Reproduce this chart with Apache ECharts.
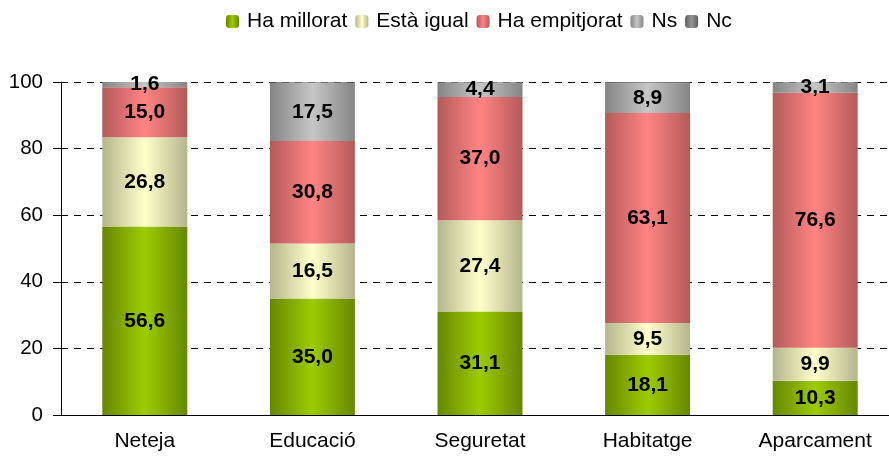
<!DOCTYPE html>
<html>
<head>
<meta charset="utf-8">
<script src="https://cdn.jsdelivr.net/npm/echarts@6/dist/echarts.min.js"></script>
<style>
  html, body { margin: 0; padding: 0; background: #fff; }
  #chart { width: 889px; height: 459px; }
</style>
</head>
<body>
<div id="chart"></div>
<script>
const categories = ['Neteja', 'Educació', 'Seguretat', 'Habitatge', 'Aparcament'];
const millorat = [56.6, 35.0, 31.1, 18.1, 10.3];
const igual = [26.8, 16.5, 27.4, 9.5, 9.9];
const empitjorat = [15.0, 30.8, 37.0, 63.1, 76.6];
const ns = [1.6, 17.5, 4.4, 8.9, 3.1];
const nc = [0, 0.2, 0.1, 0.4, 0.1];
const yTicks = [0, 20, 40, 60, 80, 100];

// edge colour, centre colour
const palette = {
  'Ha millorat': ['#678700', '#9ccc00'],
  'Està igual': ['#b5b58c', '#ffffcc'],
  'Ha empitjorat': ['#b45a5a', '#ff8484'],
  'Ns': ['#858585', '#c6c6c6'],
  'Nc': ['#5e5e5e', '#959595']
};

function grad(name) {
  const c = palette[name];
  return new echarts.graphic.LinearGradient(0, 0, 1, 0, [
    { offset: 0, color: c[0] },
    { offset: 0.5, color: c[1] },
    { offset: 1, color: c[0] }
  ]);
}

function fmt(p) {
  return p.value.toFixed(1).replace('.', ',');
}

function mk(name, data, showLabel) {
  return {
    name: name,
    type: 'bar',
    stack: 'total',
    barWidth: 85,
    data: data,
    itemStyle: { color: grad(name) },
    label: {
      show: showLabel,
      position: 'inside',
      formatter: fmt,
      color: '#000',
      fontFamily: 'Liberation Sans, Arial, sans-serif',
      fontWeight: 'bold',
      fontSize: 21
    }
  };
}

const chart = echarts.init(document.getElementById('chart'));
chart.setOption({
  animation: false,
  textStyle: { fontFamily: 'Liberation Sans, Arial, sans-serif' },
  legend: {
    top: 6,
    left: 221,
    itemWidth: 13,
    itemHeight: 13,
    itemGap: 8,
    textStyle: { fontSize: 21, color: '#000', padding: [0, 0, 0, 3] },
    data: ['Ha millorat', 'Està igual', 'Ha empitjorat', 'Ns', 'Nc']
  },
  grid: { left: 61, top: 82, bottom: 44, width: 838, outerBoundsMode: 'none' },
  xAxis: {
    type: 'category',
    data: categories,
    axisLine: { lineStyle: { color: '#000' } },
    axisTick: { length: 5, lineStyle: { color: '#000' } },
    axisLabel: { color: '#000', fontSize: 21, margin: 16 }
  },
  yAxis: {
    type: 'value',
    min: 0,
    max: 100,
    interval: 20,
    axisLine: { show: true, lineStyle: { color: '#000' } },
    axisTick: { show: true, length: 8, lineStyle: { color: '#000' } },
    axisLabel: {
      color: '#000', fontSize: 20.5, margin: 18,
      formatter: v => yTicks.includes(v) ? String(v) : ''
    },
    splitLine: { lineStyle: { color: '#000', type: [7, 6] } }
  },
  series: [
    mk('Ha millorat', millorat, true),
    mk('Està igual', igual, true),
    mk('Ha empitjorat', empitjorat, true),
    mk('Ns', ns, true),
    mk('Nc', nc, false)
  ]
});
</script>
</body>
</html>
